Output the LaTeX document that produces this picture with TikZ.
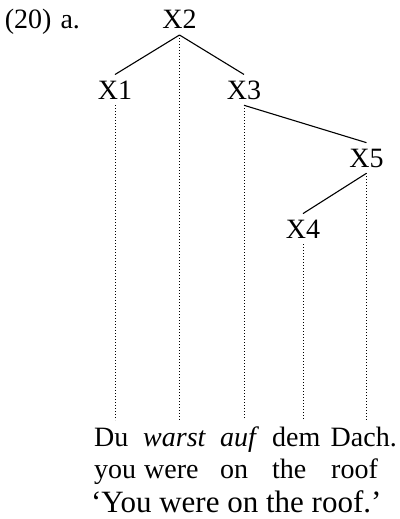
\documentclass[tikz,border=0pt]{standalone}
\usepackage{fontspec}
\setmainfont{Liberation Serif}
\begin{document}
\begin{tikzpicture}[x=1pt,y=-1pt,
  every node/.style={font=\fontsize{28}{33}\selectfont, inner sep=0pt},
  cat/.style={anchor=base, outer sep=6pt},
  word/.style={anchor=base west},
  transl/.style={anchor=base west, font=\fontsize{31}{37}\selectfont},
  branch/.style={line width=1.1pt},
  trace/.style={line width=1pt, dash pattern=on 1pt off 2pt}]
\useasboundingbox (0,0) rectangle (399,519);
\node[word] (ex) at (4.7,29) {(20)\hspace{9pt}a.};
% tree
\node[cat] (X2) at (179.5,29) {X2};
\node[cat] (X1) at (115,99) {X1};
\node[cat] (X3) at (244,99) {X3};
\node[cat] (X5) at (366.5,167) {X5};
\node[cat] (X4) at (303,238) {X4};
\coordinate (bot) at (0,420);
\draw[branch] (X2.south) -- (X1.north);
\draw[branch] (X2.south) -- (X3.north);
\draw[branch] (X3.south) -- (X5.north);
\draw[branch] (X5.south) -- (X4.north);
\draw[trace] (X1.south) -- (X1.south |- bot);
\draw[trace] (X2.south) -- (X2.south |- bot);
\draw[trace] (X3.south) -- (X3.south |- bot);
\draw[trace] (X4.south) -- (X4.south |- bot);
\draw[trace] (X5.south) -- (X5.south |- bot);
% words
\node[word] (w1) at (94,446) {Du};
\node[word] (w2) at (143,446) {\itshape warst};
\node[word] (w3) at (220,446) {\itshape auf};
\node[word] (w4) at (272,446) {dem};
\node[word] (w5) at (330.5,446) {Dach.};
% gloss
\node[word] (g1) at (94,478) {you};
\node[word] (g2) at (144,478) {were};
\node[word] (g3) at (220,478) {on};
\node[word] (g4) at (272,478) {the};
\node[word] (g5) at (331,478) {roof};
% translation
\node[transl] (tr) at (90.8,512) {‘You were on the roof.’};
\end{tikzpicture}
\end{document}
